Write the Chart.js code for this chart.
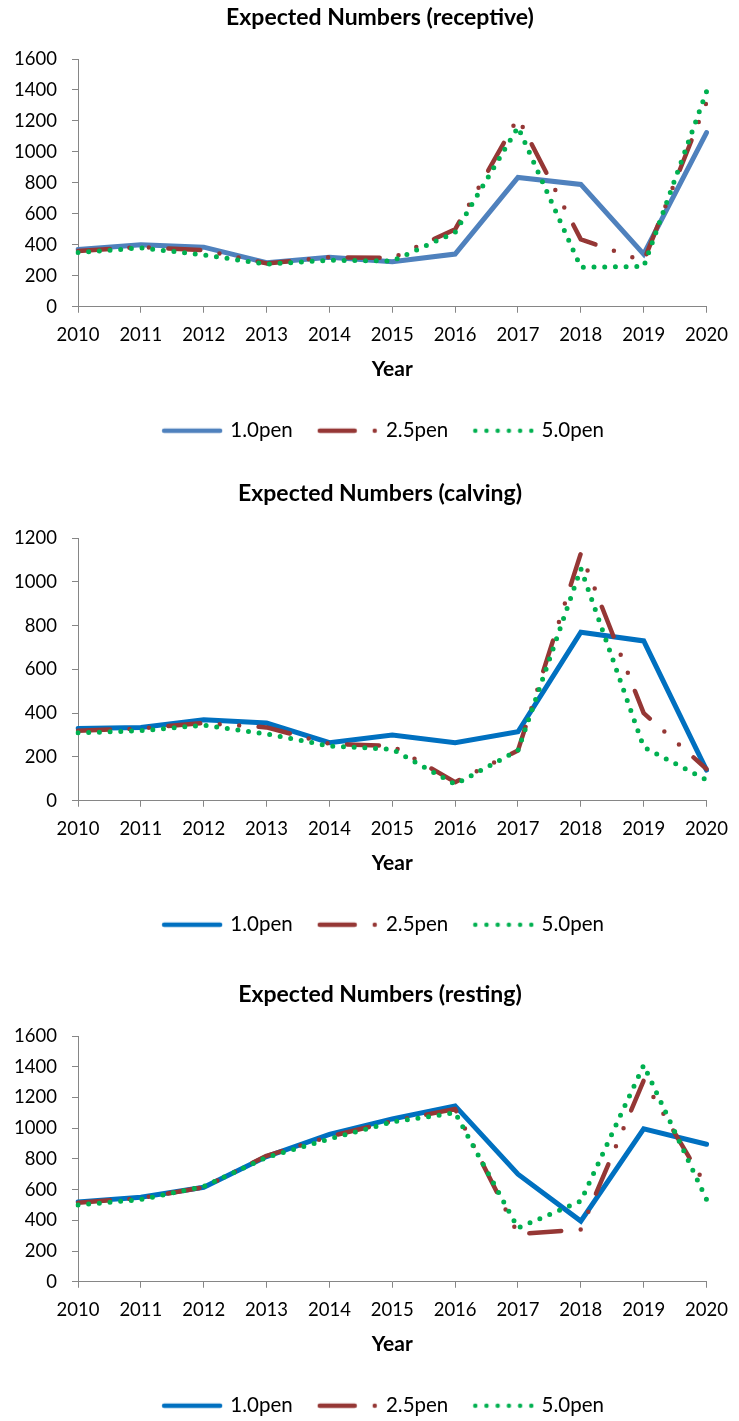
<!DOCTYPE html>
<html>
<head>
<meta charset="utf-8">
<script src="https://cdn.jsdelivr.net/npm/chart.js@4.4.1/dist/chart.umd.min.js"></script>
<style>
  html, body { margin: 0; padding: 0; background: #ffffff; overflow: hidden; }
  body { width: 739px; height: 1421px; position: relative; }
  .panel { position: absolute; left: 0; width: 739px; }
  .panel canvas { display: block; }
</style>
</head>
<body>
<div class="panel" style="top:0px"><canvas id="chartReceptive" width="739" height="451"></canvas></div>
<div class="panel" style="top:476px"><canvas id="chartCalving" width="739" height="469"></canvas></div>
<div class="panel" style="top:977px"><canvas id="chartResting" width="739" height="449"></canvas></div>
<script>
// Years on the x axis
const years = ['2010', '2011', '2012', '2013', '2014', '2015', '2016', '2017', '2018', '2019', '2020'];

// Series names
const seriesNames = ['1.0pen', '2.5pen', '5.0pen'];

// Expected numbers (receptive)
const receptive10 = [370, 400, 385, 285, 320, 290, 340, 835, 790, 340, 1125];
const receptive25 = [360, 385, 365, 280, 320, 315, 500, 1220, 435, 295, 1320];
const receptive50 = [350, 380, 335, 275, 300, 295, 480, 1160, 255, 260, 1390];

// Expected numbers (calving)
const calving10 = [330, 335, 370, 355, 265, 300, 265, 315, 770, 730, 140];
const calving25 = [320, 330, 355, 335, 260, 250, 85, 230, 1130, 400, 145];
const calving50 = [310, 320, 345, 305, 250, 235, 75, 230, 1060, 245, 95];

// Expected numbers (resting)
const resting10 = [520, 550, 615, 815, 960, 1060, 1145, 700, 395, 995, 895];
const resting25 = [515, 545, 615, 820, 945, 1045, 1125, 310, 340, 1310, 620];
const resting50 = [500, 535, 620, 810, 930, 1040, 1100, 350, 525, 1410, 535];

// Value axis ranges
const receptiveAxisMax = 1600;
const calvingAxisMax = 1200;
const restingAxisMax = 1600;
const axisStep = 200;

Chart.defaults.font.family = 'Lato, "Open Sans", sans-serif';
Chart.defaults.color = '#000000';

const AXIS_GREY = '#868686';
const RED = '#953735';
const GREEN = '#00B050';

const RED_DASH = [32, 19.5, 0, 19.5, 0, 19.5];
const GREEN_DOTS = [0, 10.7];

// Small line samples used as legend symbols (dash patterns included)
function legendSwatch(color, lineWidth, dash) {
  const c = document.createElement('canvas');
  c.width = 62;
  c.height = 8;
  const g = c.getContext('2d');
  g.strokeStyle = color;
  g.lineWidth = lineWidth;
  g.lineCap = 'round';
  g.setLineDash(dash);
  g.beginPath();
  g.moveTo(3, 4);
  g.lineTo(59, 4);
  g.stroke();
  return c;
}

// Moves the chart title and legend so they centre on the area right of the y-axis labels
const centreShift = {
  id: 'centreShift',
  afterLayout(chart) {
    if (chart.titleBlock) chart.titleBlock.left = 49;
    if (chart.legend) chart.legend.left = 57;
  }
};

function buildChart(canvasId, titleText, s10, s25, s50, yMax, blue, titleGap) {
  const titleSize = 23;
  const titleLine = titleSize * 1.2;
  const swatches = [
    legendSwatch(blue, 4.5, []),
    legendSwatch(RED, 4.5, [35, 20, 0, 100]),
    legendSwatch(GREEN, 4.5, [0, 11.2])
  ];
  return new Chart(document.getElementById(canvasId), {
    type: 'line',
    data: {
      labels: years,
      datasets: [
        {
          label: seriesNames[0],
          data: s10,
          borderColor: blue,
          backgroundColor: blue,
          borderWidth: 5,
          borderCapStyle: 'round',
          borderJoinStyle: 'miter',
          pointRadius: 0,
          tension: 0,
          order: 3
        },
        {
          label: seriesNames[1],
          data: s25,
          borderColor: RED,
          backgroundColor: RED,
          borderWidth: 4.5,
          borderCapStyle: 'round',
          borderJoinStyle: 'round',
          borderDash: RED_DASH,
          pointRadius: 0,
          tension: 0,
          order: 2
        },
        {
          label: seriesNames[2],
          data: s50,
          borderColor: GREEN,
          backgroundColor: GREEN,
          borderWidth: 5,
          borderCapStyle: 'round',
          borderJoinStyle: 'round',
          borderDash: GREEN_DOTS,
          pointRadius: 0,
          tension: 0,
          order: 1
        }
      ]
    },
    options: {
      responsive: false,
      animation: false,
      events: [],
      layout: { padding: { left: 0, right: 28, top: 0, bottom: 0 } },
      plugins: {
        tooltip: { enabled: false },
        title: {
          display: true,
          text: titleText,
          color: '#000000',
          font: { size: titleSize, weight: 'bold' },
          padding: { top: 18 - titleLine / 2, bottom: titleGap - titleLine / 2 }
        },
        legend: {
          display: true,
          position: 'bottom',
          align: 'center',
          labels: {
            usePointStyle: true,
            pointStyleWidth: 56,
            padding: 27,
            color: '#000000',
            font: { size: 20.5 },
            sort: (a, b) => a.datasetIndex - b.datasetIndex,
            generateLabels: (chart) => {
              const items = Chart.defaults.plugins.legend.labels.generateLabels(chart);
              items.forEach((it) => { it.pointStyle = swatches[it.datasetIndex]; });
              return items;
            }
          }
        }
      },
      scales: {
        x: {
          type: 'category',
          offset: false,
          border: { display: true, color: AXIS_GREY, width: 1 },
          grid: { display: true, drawOnChartArea: false, drawTicks: true, tickLength: 6, color: AXIS_GREY },
          ticks: { autoSkip: false, maxRotation: 0, minRotation: 0, padding: 11, font: { size: 18.5 }, color: '#000000' },
          title: {
            display: true,
            text: 'Year',
            color: '#000000',
            font: { size: 21, weight: 'bold' },
            padding: { top: 0, bottom: 11.35 }
          }
        },
        y: {
          min: 0,
          max: yMax,
          border: { display: true, color: AXIS_GREY, width: 1 },
          grid: { display: true, drawOnChartArea: false, drawTicks: true, tickLength: 6, color: AXIS_GREY },
          ticks: {
            stepSize: axisStep,
            padding: 15,
            font: { size: 18.5 },
            color: '#000000',
            callback: (value) => String(value)
          },
          afterFit: (scale) => { scale.width = 78; }
        }
      }
    },
    plugins: [centreShift]
  });
}

buildChart('chartReceptive', 'Expected Numbers (receptive)', receptive10, receptive25, receptive50, receptiveAxisMax, '#4F81BD', 41);
buildChart('chartCalving', 'Expected Numbers (calving)', calving10, calving25, calving50, calvingAxisMax, '#0070C0', 44);
buildChart('chartResting', 'Expected Numbers (resting)', resting10, resting25, resting50, restingAxisMax, '#0070C0', 41);
</script>
</body>
</html>
